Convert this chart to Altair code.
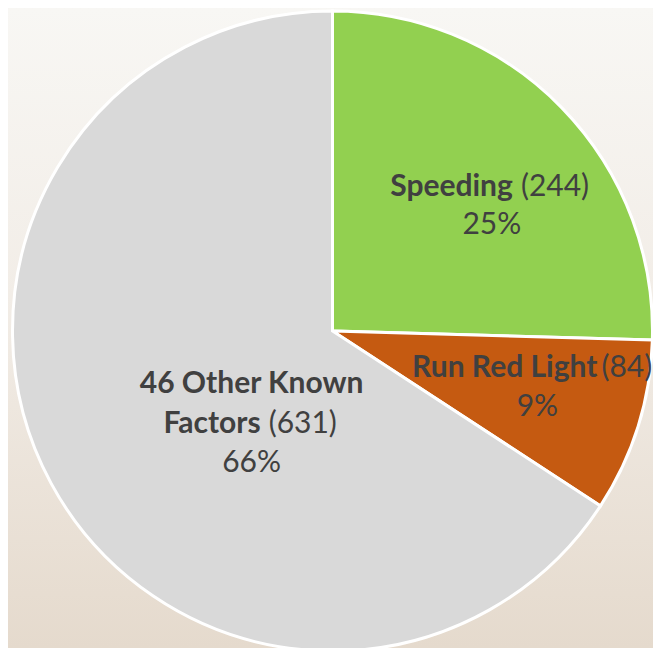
import altair as alt
import pandas as pd

# ---- data -------------------------------------------------------------
causes = ["Speeding", "Run Red Light", "46 Other Known Factors"]
counts = [244, 84, 631]
bold_line1 = ["Speeding", "Run Red Light", "46 Other Known"]
bold_line2 = ["", "", "Factors"]
slice_colors = ["#92D050", "#C55A11", "#D9D9D9"]

df = pd.DataFrame({"cause": causes, "count": counts,
                   "bold1": bold_line1, "bold2": bold_line2})

FONT = "Lato"
FS = 30
TXT = "#404040"
R = 200
PL, PT, PR, PB = 4, 6, 0, 0
VW, VH = 641, 634

base = (
    alt.Chart(df)
    .transform_window(rank="row_number()")
    .transform_joinaggregate(total="sum(count)")
    .transform_calculate(frac="datum.count / datum.total",
                         countLabel="'(' + datum.count + ')'")
)
theta = alt.Theta("count:Q", stack=True)
order = alt.Order("rank:Q")

bg = alt.Chart(alt.Data(values=[{}])).mark_rect(
    fill=alt.Gradient(gradient="linear",
                      stops=[alt.GradientStop(color="#F8F7F4", offset=0),
                             alt.GradientStop(color="#F2EDE7", offset=0.45),
                             alt.GradientStop(color="#E5DACD", offset=1)],
                      x1=0, x2=0, y1=0, y2=1)
).encode(x=alt.value(-PL), x2=alt.value(VW + PR),
         y=alt.value(-PT), y2=alt.value(VH + PB))

arc = base.mark_arc(stroke="white", strokeWidth=3, outerRadius=320).encode(
    theta=theta, order=order,
    color=alt.Color("cause:N", scale=alt.Scale(domain=causes, range=slice_colors), legend=None),
)


def piece(cause, field, bold, dx, dy, align, fmt=None):
    t = alt.Text(field, format=fmt) if fmt else alt.Text(field)
    return base.mark_text(
        radius=R, dx=dx, dy=dy, align=align, baseline="middle",
        font=FONT, fontSize=FS, fontWeight="bold" if bold else "normal", color=TXT,
    ).encode(theta=theta, order=order,
             text=alt.condition(alt.datum.cause == cause, t, alt.value("")))


layers = [bg, arc]
# Speeding
layers += [piece(causes[0], "bold1:N", True, 37, -5, "right"),
           piece(causes[0], "countLabel:N", False, 45, -5, "left"),
           piece(causes[0], "frac:Q", False, 16, 33, "center", ".0%")]
# Run Red Light
layers += [piece(causes[1], "bold1:N", True, 74, -23, "right"),
           piece(causes[1], "countLabel:N", False, 78, -23, "left"),
           piece(causes[1], "frac:Q", False, 14, 16, "center", ".0%")]
# Other
layers += [piece(causes[2], "bold1:N", True, 95, -42, "center"),
           piece(causes[2], "bold2:N", True, 104, -2, "right"),
           piece(causes[2], "countLabel:N", False, 112, -2, "left"),
           piece(causes[2], "frac:Q", False, 95, 37, "center", ".0%")]

chart = alt.layer(*layers).properties(
    width=VW, height=VH,
    padding={"left": PL, "top": PT, "right": PR, "bottom": PB},
    autosize=alt.AutoSizeParams(type="none"),
).configure_view(stroke=None)

chart.save("out.html", embed_options={"renderer": "svg", "actions": False})
